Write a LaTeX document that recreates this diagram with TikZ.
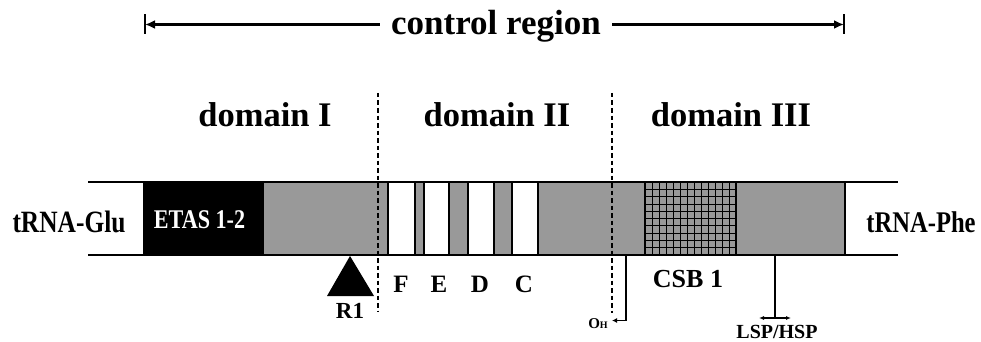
\documentclass[tikz,border=0pt]{standalone}
\usepackage{fontspec}
\setmainfont{Liberation Serif}
\newfontfamily\condensed[FakeStretch=0.82]{Liberation Serif}
\usetikzlibrary{arrows.meta}

\definecolor{segfill}{gray}{0.6}

\begin{document}
\begin{tikzpicture}[x=1pt,y=-1pt,
  seg/.style={draw=black, line width=1.6pt, inner sep=0pt, outer sep=0pt,
              minimum height=73pt, anchor=west},
  lab/.style={inner sep=0pt, anchor=base, text=black},
  strip/.style={line width=1.8pt},
  divider/.style={line width=2.2pt, dash pattern=on 4.5pt off 3pt},
  conn/.style={line width=1.6pt},
  span/.style={line width=2.2pt, -{Latex[length=10pt,width=9pt]}},
  fs/.style={font=\fontsize{#1}{#1}\selectfont\bfseries},
  cfs/.style={font=\condensed\fontsize{#1}{#1}\selectfont\bfseries},
]
\useasboundingbox (0,0) rectangle (981,342);

% --- control region span -------------------------------------------------
\node[lab, fs=35, inner xsep=11pt] (ctrl) at (496,35) {control region};
\coordinate (crL) at (145,24.5);
\coordinate (crR) at (844,24.5);
\draw[span] (ctrl.west |- crL) -- (crL);
\draw[span] (ctrl.east |- crR) -- (crR);
\draw[conn] ([yshift=10pt]crL) -- ([yshift=-10pt]crL);
\draw[conn] ([yshift=10pt]crR) -- ([yshift=-10pt]crR);

% --- domain titles -------------------------------------------------------
\node[lab, fs=34.5] (dom1) at (265,126) {domain I};
\node[lab, fs=34.5] (dom2) at (497,126) {domain II};
\node[lab, fs=34.5] (dom3) at (731,126) {domain III};

% --- segments of the control region -------------------------------------
\node[seg, fill=segfill, minimum width=582pt] (grey) at (263,218.5) {};
\node[seg, fill=black,   minimum width=119pt] (etas) at (144,218.5) {};
\node[seg, fill=white,   minimum width=27pt]  (F)    at (388,218.5) {};
\node[seg, fill=white,   minimum width=25pt]  (E)    at (424,218.5) {};
\node[seg, fill=white,   minimum width=26pt]  (D)    at (468,218.5) {};
\node[seg, fill=white,   minimum width=26pt]  (C)    at (512,218.5) {};
\node[seg, fill=segfill, minimum width=91pt]  (csb)  at (645,218.5) {};

% cross-hatching of CSB 1
\foreach \i in {1,...,12}
  \draw[line width=0.8pt] ([xshift=7*\i pt]csb.north west) -- ([xshift=7*\i pt]csb.south west);
\foreach \j in {1,...,9}
  \draw[line width=0.8pt] ([yshift=-7.3*\j pt]csb.north west) -- ([yshift=-7.3*\j pt]csb.north east);
\draw[line width=1.6pt] (csb.north west) rectangle (csb.south east);

% flanking strip lines
\coordinate (stripTL) at (88,182);
\coordinate (stripTR) at (898,182);
\coordinate (stripBL) at (88,255);
\coordinate (stripBR) at (898,255);
\draw[strip] (stripTL) -- (stripTR);
\draw[strip] (stripBL) -- (stripBR);

% segment labels
\node[lab, cfs=31] (glu)  at (69,232)    {tRNA-Glu};
\node[lab, cfs=30] (phe)  at (921,232.5) {tRNA-Phe};
\node[lab, cfs=27, text=white] (etaslab) at (199.5,228) {ETAS 1-2};

% --- domain dividers -----------------------------------------------------
\coordinate (div1top) at (378,93);
\coordinate (div1bot) at (378,312);
\coordinate (div2top) at (612,93);
\coordinate (div2bot) at (612,313);
\draw[divider] (div1top) -- (div1bot);
\draw[divider] (div2top) -- (div2bot);

% --- conserved blocks ----------------------------------------------------
\node[lab, fs=25] (Flab) at (401,292) {F};
\node[lab, fs=25] (Elab) at (439,292) {E};
\node[lab, fs=25] (Dlab) at (480,292) {D};
\node[lab, fs=25] (Clab) at (524,292) {C};
\node[lab, fs=26] (csblab) at (688,287) {CSB 1};

% --- R1 repeat -----------------------------------------------------------
\coordinate (r1apex) at (350,256);
\fill (r1apex) -- ++(-23,40) -- ++(47,0) -- cycle;
\node[lab, fs=23] (r1) at (350,318) {R1};

% --- heavy-strand origin -------------------------------------------------
\coordinate (ohfoot) at (626,255);
\coordinate (ohtip)  at (612,320.5);
\draw[conn, -{Latex[length=5pt,width=5pt]}] (ohfoot) |- (ohtip);
\node[lab, fs=15] (oh) at (598,328.5) {O{\fontsize{10}{10}\selectfont H}};

% --- promoters -----------------------------------------------------------
\coordinate (lspfoot) at (775,255);
\coordinate (lspmid)  at (775,318);
\draw[conn] (lspfoot) -- (lspmid);
\draw[line width=1.2pt, {Latex[length=5pt,width=4pt]}-{Latex[length=5pt,width=4pt]}]
  ([xshift=-16pt]lspmid) -- ([xshift=16pt]lspmid);
\node[lab, fs=20] (lsp) at (777,338) {LSP/HSP};
\end{tikzpicture}
\end{document}
